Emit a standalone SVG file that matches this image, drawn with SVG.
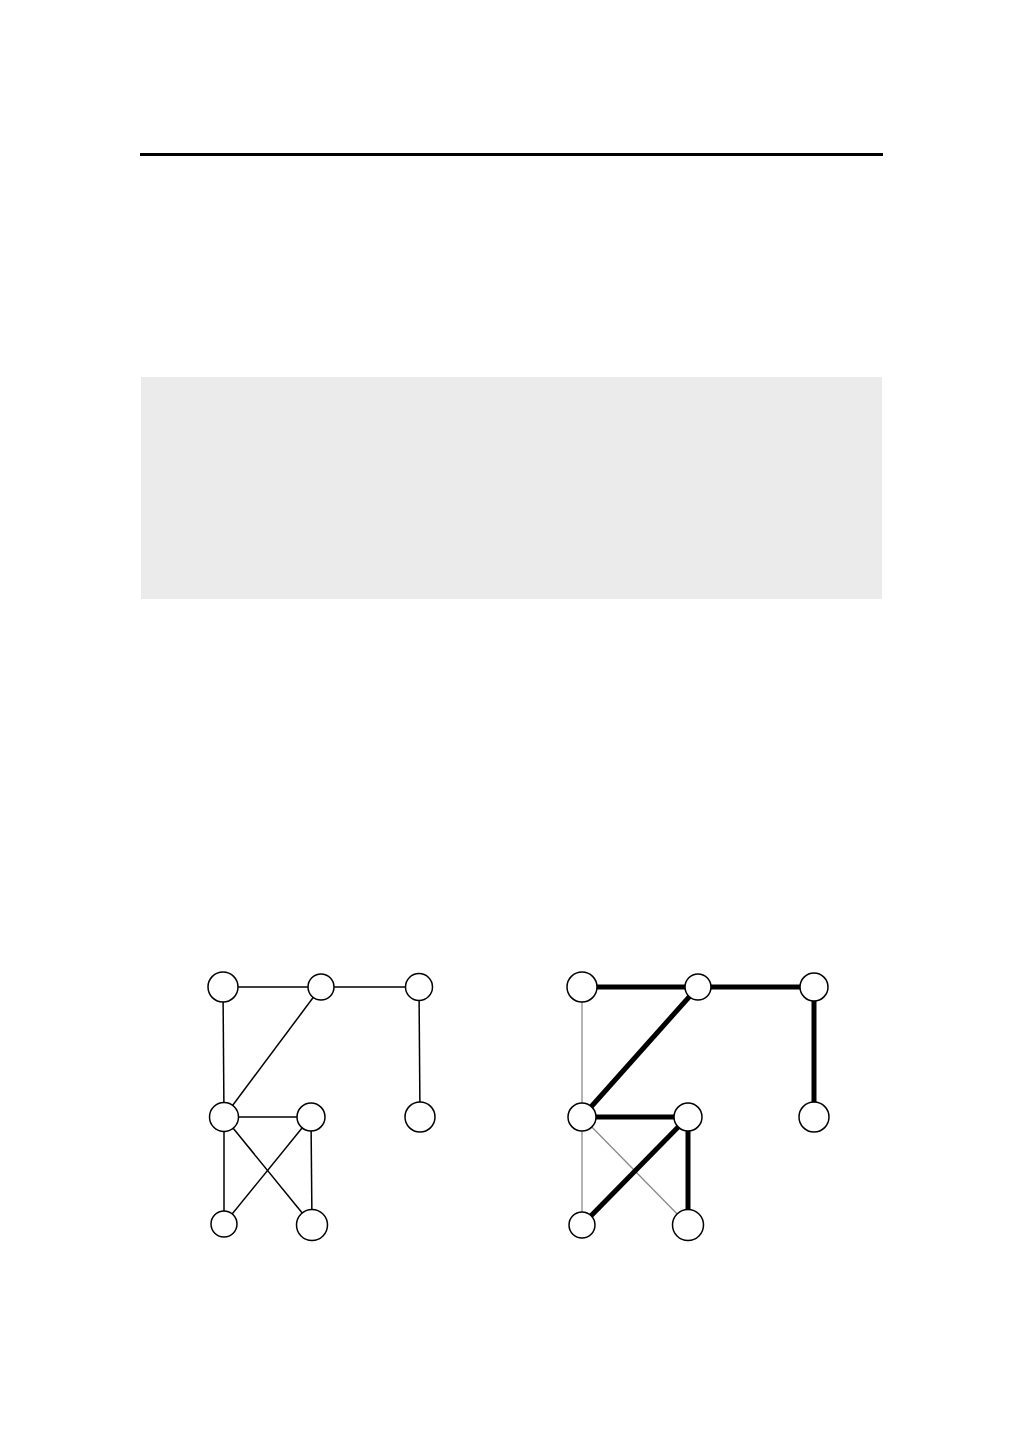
<svg xmlns="http://www.w3.org/2000/svg" width="1009" height="1441" viewBox="0 0 1009 1441">
<style>
.node{fill:#fff;stroke:#000;stroke-width:1.5}
.e{stroke:#000;stroke-width:1.5;fill:none}
.t{stroke:#000;stroke-width:5;fill:none}
.g{stroke:#8a8a8a;stroke-width:1.3;fill:none}
</style>
<rect width="1009" height="1441" fill="#fff"/>
<rect x="140" y="153" width="743" height="3" fill="#000"/>
<rect x="141" y="377" width="741" height="222" fill="#ebebeb"/>
<g id="connectors">
<line class="e" x1="223" y1="987" x2="321" y2="987"/>
<line class="e" x1="321" y1="987" x2="419" y2="987"/>
<line class="e" x1="223" y1="987" x2="224" y2="1117"/>
<line class="e" x1="321" y1="987" x2="224" y2="1117"/>
<line class="e" x1="419" y1="987" x2="420" y2="1117"/>
<line class="e" x1="224" y1="1117" x2="311" y2="1117"/>
<line class="e" x1="224" y1="1117" x2="224" y2="1224"/>
<line class="e" x1="224" y1="1117" x2="312" y2="1225"/>
<line class="e" x1="311" y1="1117" x2="224" y2="1224"/>
<line class="e" x1="311" y1="1117" x2="312" y2="1225"/>
<line class="g" x1="582" y1="987" x2="582" y2="1117"/>
<line class="g" x1="582" y1="1117" x2="582" y2="1225"/>
<line class="g" x1="582" y1="1117" x2="688" y2="1225"/>
<line class="t" x1="582" y1="987" x2="698" y2="987"/>
<line class="t" x1="698" y1="987" x2="814" y2="987"/>
<line class="t" x1="814" y1="987" x2="814" y2="1117"/>
<line class="t" x1="698" y1="987" x2="582" y2="1117"/>
<line class="t" x1="582" y1="1117" x2="688" y2="1117"/>
<line class="t" x1="688" y1="1117" x2="582" y2="1225"/>
<line class="t" x1="688" y1="1117" x2="688" y2="1225"/>
</g>
<g id="L1"><circle class="node" cx="223" cy="987" r="15"/></g>
<g id="L2"><circle class="node" cx="321" cy="987" r="13"/></g>
<g id="L3"><circle class="node" cx="419" cy="987" r="13.5"/></g>
<g id="L4"><circle class="node" cx="420" cy="1117" r="15"/></g>
<g id="L5"><circle class="node" cx="224" cy="1117" r="14.5"/></g>
<g id="L6"><circle class="node" cx="311" cy="1117" r="14"/></g>
<g id="L7"><circle class="node" cx="224" cy="1224" r="13"/></g>
<g id="L8"><circle class="node" cx="312" cy="1225" r="15.5"/></g>
<g id="R1"><circle class="node" cx="582" cy="987" r="15"/></g>
<g id="R2"><circle class="node" cx="698" cy="987" r="13"/></g>
<g id="R3"><circle class="node" cx="814" cy="987" r="14"/></g>
<g id="R4"><circle class="node" cx="814" cy="1117" r="15"/></g>
<g id="R5"><circle class="node" cx="582" cy="1117" r="14"/></g>
<g id="R6"><circle class="node" cx="688" cy="1117" r="14"/></g>
<g id="R7"><circle class="node" cx="582" cy="1225" r="13"/></g>
<g id="R8"><circle class="node" cx="688" cy="1225" r="15.5"/></g>
</svg>
